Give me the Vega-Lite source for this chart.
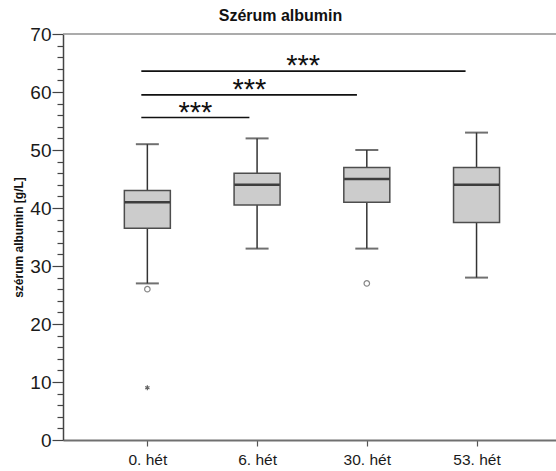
{
  "$schema": "https://vega.github.io/schema/vega-lite/v6.json",
  "width": 493,
  "height": 406,
  "autosize": {"type": "none"},
  "padding": {"left": 63, "top": 34, "right": 0, "bottom": 31},
  "background": "white",
  "view": {"stroke": null, "strokeWidth": 0},
  "config": {
    "view": {"stroke": null, "strokeWidth": 0},
    "font": "Liberation Sans",
    "axis": {"grid": false, "labelFont": "Liberation Sans", "titleFont": "Liberation Sans"}
  },
  "title": {
    "text": "Szérum albumin",
    "fontSize": 16,
    "fontWeight": "bold",
    "font": "Liberation Sans",
    "color": "#111",
    "anchor": "middle",
    "dx": -29,
    "offset": 1
  },
  "datasets": {
    "stats": [
      {"pos": 0, "week": "0. hét", "min": 27, "q1": 36.5, "median": 41, "q3": 43, "max": 51},
      {"pos": 1, "week": "6. hét", "min": 33, "q1": 40.5, "median": 44, "q3": 46, "max": 52},
      {"pos": 2, "week": "30. hét", "min": 33, "q1": 41, "median": 45, "q3": 47, "max": 50},
      {"pos": 3, "week": "53. hét", "min": 28, "q1": 37.5, "median": 44, "q3": 47, "max": 53}
    ],
    "outliers": [
      {"pos": 0, "value": 26, "kind": "outlier"},
      {"pos": 2, "value": 27, "kind": "outlier"}
    ],
    "extremes": [
      {"pos": 0, "value": 9, "kind": "extreme"}
    ],
    "sig": [
      {"from": -0.055, "to": 0.93, "mid": 0.4375, "y": 55.6, "label": "***"},
      {"from": -0.055, "to": 1.91, "mid": 0.93, "y": 59.5, "label": "***"},
      {"from": -0.055, "to": 2.9, "mid": 1.42, "y": 63.6, "label": "***"}
    ],
    "frame": [{"top": 70}]
  },
  "layer": [
    {
      "data": {"name": "stats"},
      "mark": {"type": "rule", "color": "#333333", "strokeWidth": 1.5},
      "encoding": {
        "x": {
          "field": "pos",
          "type": "quantitative",
          "scale": {"domain": [-0.7232, 3.6786], "nice": false, "zero": false},
          "axis": {
            "values": [0, 1, 2, 3],
            "tickCount": 10,
            "labelExpr": "['0. hét','6. hét','30. hét','53. hét'][datum.value]",
            "title": null,
            "domainColor": "#707070",
            "domainWidth": 2,
            "tickColor": "#555555",
            "tickSize": 6,
            "tickWidth": 1.2,
            "labelFontSize": 15.5,
            "labelColor": "#1a1a1a",
            "labelPadding": 6,
            "labelFlush": false,
            "labelOverlap": false
          }
        },
        "y": {
          "field": "min",
          "type": "quantitative",
          "scale": {"domain": [0, 70], "nice": false, "zero": true},
          "axis": {
            "title": "szérum albumin [g/L]",
            "titleFontSize": 12,
            "titleFontWeight": "bold",
            "titleColor": "#111",
            "titlePadding": 4,
            "values": [0, 2, 4, 6, 8, 10, 12, 14, 16, 18, 20, 22, 24, 26, 28, 30, 32, 34, 36, 38, 40, 42, 44, 46, 48, 50, 52, 54, 56, 58, 60, 62, 64, 66, 68, 70],
            "tickCount": 100,
            "format": "d",
            "labelExpr": "datum.value % 10 === 0 ? datum.label : ''",
            "tickSize": {"condition": {"test": "datum.value % 10 === 0", "value": 11}, "value": 6},
            "tickColor": "#444444",
            "tickWidth": 1.2,
            "domainColor": "#444444",
            "domainWidth": 1.5,
            "labelFontSize": 19,
            "labelColor": "#1a1a1a",
            "labelPadding": 1,
            "labelFlush": false,
            "labelOverlap": false,
            "labelBound": false
          }
        },
        "y2": {"field": "q1"}
      }
    },
    {
      "data": {"name": "frame"},
      "mark": {"type": "rule", "color": "#8f8f8f", "strokeWidth": 1.6},
      "encoding": {
        "y": {"field": "top", "type": "quantitative"}
      }
    },
    {
      "data": {"name": "stats"},
      "mark": {"type": "rule", "color": "#333333", "strokeWidth": 1.5},
      "encoding": {
        "x": {"field": "pos", "type": "quantitative"},
        "y": {"field": "q3", "type": "quantitative"},
        "y2": {"field": "max"}
      }
    },
    {
      "data": {"name": "stats"},
      "mark": {"type": "tick", "orient": "horizontal", "size": 23, "thickness": 2, "color": "#333333"},
      "encoding": {
        "x": {"field": "pos", "type": "quantitative"},
        "y": {"field": "min", "type": "quantitative"}
      }
    },
    {
      "data": {"name": "stats"},
      "mark": {"type": "tick", "orient": "horizontal", "size": 23, "thickness": 2, "color": "#333333"},
      "encoding": {
        "x": {"field": "pos", "type": "quantitative"},
        "y": {"field": "max", "type": "quantitative"}
      }
    },
    {
      "data": {"name": "stats"},
      "mark": {"type": "bar", "orient": "vertical", "size": 46, "fill": "#cccccc", "stroke": "#4d4d4d", "strokeWidth": 1.5},
      "encoding": {
        "x": {"field": "pos", "type": "quantitative"},
        "y": {"field": "q1", "type": "quantitative"},
        "y2": {"field": "q3"}
      }
    },
    {
      "data": {"name": "stats"},
      "mark": {"type": "tick", "orient": "horizontal", "size": 45, "thickness": 2.5, "color": "#000000"},
      "encoding": {
        "x": {"field": "pos", "type": "quantitative"},
        "y": {"field": "median", "type": "quantitative"}
      }
    },
    {
      "data": {"name": "outliers"},
      "mark": {"type": "point", "shape": "circle", "filled": false, "size": 30, "stroke": "#555555", "strokeWidth": 1.2},
      "encoding": {
        "x": {"field": "pos", "type": "quantitative"},
        "y": {"field": "value", "type": "quantitative"}
      }
    },
    {
      "data": {"name": "extremes"},
      "mark": {"type": "point", "shape": "M0,-1L0,1M-0.87,-0.5L0.87,0.5M-0.87,0.5L0.87,-0.5", "filled": false, "size": 24, "stroke": "#222222", "strokeWidth": 1.2},
      "encoding": {
        "x": {"field": "pos", "type": "quantitative"},
        "y": {"field": "value", "type": "quantitative"}
      }
    },
    {
      "data": {"name": "sig"},
      "mark": {"type": "rule", "color": "#111111", "strokeWidth": 1.6},
      "encoding": {
        "x": {"field": "from", "type": "quantitative"},
        "x2": {"field": "to"},
        "y": {"field": "y", "type": "quantitative"}
      }
    },
    {
      "data": {"name": "sig"},
      "mark": {"type": "text", "fontSize": 29, "font": "Liberation Sans", "color": "#111111", "baseline": "middle", "align": "center", "dy": -5},
      "encoding": {
        "x": {"field": "mid", "type": "quantitative"},
        "y": {"field": "y", "type": "quantitative"},
        "text": {"field": "label"}
      }
    }
  ]
}
